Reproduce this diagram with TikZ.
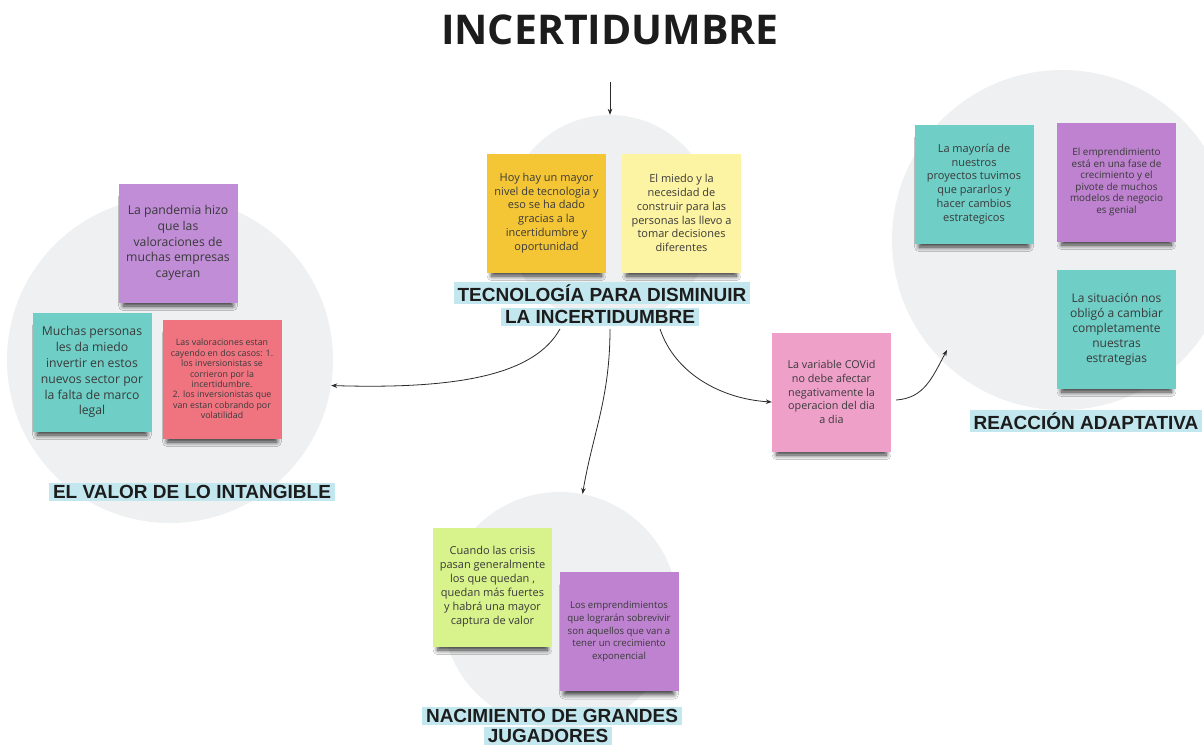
\documentclass[tikz,border=0pt]{standalone}
\usepackage{fontspec}
\setmainfont{Open Sans}
\newfontfamily\osans{Open Sans}
\newfontfamily\lsans{Liberation Sans}
\usetikzlibrary{arrows.meta,shadows.blur}
\definecolor{circbg}{HTML}{EFF0F1}
\definecolor{labbg}{HTML}{C2E7EE}
\definecolor{labtext}{HTML}{1C1C1C}
\definecolor{notetext}{HTML}{3A3A3A}
\definecolor{cgold}{HTML}{F4C636}
\definecolor{cpale}{HTML}{FCF3A3}
\definecolor{cpurple}{HTML}{C08DD6}
\definecolor{cpurpleb}{HTML}{BE82D0}
\definecolor{cteal}{HTML}{6FCEC6}
\definecolor{cred}{HTML}{F07480}
\definecolor{cpink}{HTML}{EEA0C9}
\definecolor{cgreen}{HTML}{D8F28C}
\definecolor{arrowc}{HTML}{2A2A2A}
\begin{document}
\begin{tikzpicture}[x=1pt,y=-1pt,
  circ/.style={circle, fill=circbg, inner sep=0pt, minimum size=#1},
  note/.style={fill=#1, minimum width=119pt, minimum height=119pt, inner sep=0pt,
    align=center, text=notetext,
    blur shadow={shadow xshift=0pt, shadow yshift=-9pt, shadow scale=0.92, shadow opacity=80, shadow blur steps=8, shadow blur radius=5pt}},
  fs/.style 2 args={font=\osans\fontsize{#1}{#2}\selectfont},
  lab/.style={fill=labbg, inner xsep=4pt, inner ysep=2pt, text=labtext,
    font=\lsans\bfseries\fontsize{19}{22}\selectfont},
  conn/.style={draw=arrowc, line width=0.8pt, -{Stealth[length=6pt,width=4.5pt]}}
]
\useasboundingbox[fill=white] (0,0) rectangle (1204,747);

% background circles
\node[circ=208pt] (cC) at (610,219) {};
\node[circ=326pt] (cL) at (170,360) {};
\node[circ=340pt] (cR) at (1062,240) {};
\node[circ=236pt] (cB) at (560,610) {};

% title
\node[text=labtext, font=\osans\bfseries\fontsize{41}{48}\selectfont] (title) at (610,30) {INCERTIDUMBRE};

% centre
\node[note=cgold, fs={11}{13.9}] (yel) at (546.5,213) {Hoy hay un mayor\\nivel de tecnologia y\\eso se ha dado\\gracias a la\\incertidumbre y\\oportunidad};
\node[note=cpale, fs={11}{13.9}] (lyel) at (681.5,213) {El miedo y la\\necesidad de\\construir para las\\personas las llevo a\\tomar decisiones\\diferentes};
\node[lab] (tecA) at (602,293) {TECNOLOGÍA PARA DISMINUIR};
\node[lab] (tecB) at (600,317) {LA INCERTIDUMBRE};

% left
\node[note=cpurple, fs={12.2}{15.8}] (pand) at (178,243) {La pandemia hizo\\que las\\valoraciones de\\muchas empresas\\cayeran};
\node[note=cteal, fs={12.2}{15.9}] (much) at (92,372) {Muchas personas\\les da miedo\\invertir en estos\\nuevos sector por\\la falta de marco\\legal};
\node[note=cred, fs={8.8}{10.4}] (valo) at (222,379) {Las valoraciones estan\\cayendo en dos casos: 1.\\los inversionistas se\\corrieron por la\\incertidumbre.\\2. los inversionistas que\\van estan cobrando por\\volatilidad};
\node[lab] (valL) at (192,492) {EL VALOR DE LO INTANGIBLE};

% right
\node[note=cteal, fs={11}{13.9}] (mayo) at (974,184) {La mayoría de\\nuestros\\proyectos tuvimos\\que pararlos y\\hacer cambios\\estrategicos};
\node[note=cpurpleb, fs={9.9}{11.6}] (empr) at (1116.5,182) {El emprendimiento\\está en una fase de\\crecimiento y el\\pivote de muchos\\modelos de negocio\\es genial};
\node[note=cteal, fs={12}{15}] (situ) at (1116.5,329) {La situación nos\\obligó a cambiar\\completamente\\nuestras\\estrategias};
\node[lab] (reaL) at (1086,421) {REACCIÓN ADAPTATIVA};

% middle right
\node[note=cpink, fs={10.8}{13.6}] (covid) at (831.5,392) {La variable COVid\\no debe afectar\\negativamente la\\operacion del dia\\a dia};

% bottom
\node[note=cgreen, fs={11}{14}] (cuan) at (492.5,587) {Cuando las crisis\\pasan generalmente\\los que quedan ,\\quedan más fuertes\\y habrá una mayor\\captura de valor};
\node[note=cpurpleb, fs={9.6}{12.6}] (losem) at (619,631.5) {Los emprendimientos\\que lograrán sobrevivir\\son aquellos que van a\\tener un crecimiento\\exponencial};
\node[lab] (nacA) at (552,716) {NACIMIENTO DE GRANDES};
\node[lab] (nacB) at (548,736) {JUGADORES};

% connectors
\draw[conn] ([yshift=-33pt]title.south) -- (cC.north);
\draw[conn] ([xshift=-40pt,yshift=-3pt]tecB.south) .. controls +(-25,45) and +(130,4) .. (cL.-9);
\draw[conn] ([xshift=10pt,yshift=-3pt]tecB.south) .. controls +(0,70) and +(10,-60) .. (cB.79);
\draw[conn] ([xshift=60pt,yshift=-3pt]tecB.south) .. controls +(15,45) and +(-50,-3) .. ([yshift=-10pt]covid.west);
\coordinate (rIn) at (947,350);
\draw[conn] ([xshift=5pt,yshift=-8pt]covid.east) .. controls +(28,-2) and +(-15,28) .. (rIn);
\end{tikzpicture}
\end{document}
